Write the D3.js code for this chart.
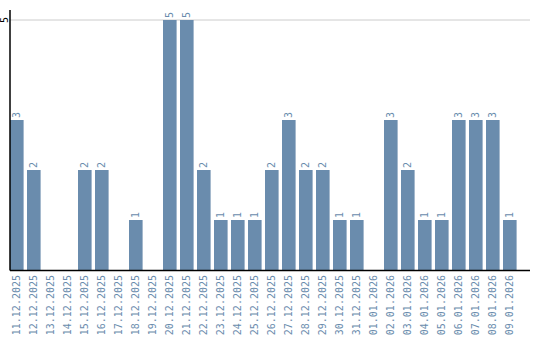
<!DOCTYPE html>
<html>
<head>
<meta charset="utf-8">
<script src="https://cdn.jsdelivr.net/npm/d3@7"></script>
<style>
  body { margin: 0; background: #fff; }
  text { font-family: "DejaVu Sans Mono", monospace; font-size: 10px; }
</style>
</head>
<body>
<svg id="chart" width="540" height="340"></svg>
<script>
const dates = ["11.12.2025", "12.12.2025", "13.12.2025", "14.12.2025", "15.12.2025", "16.12.2025",
  "17.12.2025", "18.12.2025", "19.12.2025", "20.12.2025", "21.12.2025", "22.12.2025", "23.12.2025",
  "24.12.2025", "25.12.2025", "26.12.2025", "27.12.2025", "28.12.2025", "29.12.2025", "30.12.2025",
  "31.12.2025", "01.01.2026", "02.01.2026", "03.01.2026", "04.01.2026", "05.01.2026", "06.01.2026",
  "07.01.2026", "08.01.2026", "09.01.2026"];
const counts = [3, 2, 0, 0, 2, 2, 0, 1, 0, 5, 5, 2, 1, 1, 1, 2, 3, 2, 2, 1, 1, 0, 3, 2, 1, 1, 3, 3, 3, 1];
const yTicks = [5];

const svg = d3.select("#chart");
const mLeft = 10, mRight = 530, mBottom = 270, mTop = 10;
const barColor = "#6a8cad";

let x = d3.scaleBand().domain(dates).range([mLeft, 516.6]).paddingInner(0.2).paddingOuter(0);
let y = d3.scaleLinear().domain([0, 5.2]).range([mBottom, mTop]);

// grid
svg.append("g")
  .selectAll("line")
  .data(yTicks)
  .enter()
  .append("line")
  .attr("x1", mLeft).attr("x2", mRight)
  .attr("y1", (d) => y(d)).attr("y2", (d) => y(d))
  .attr("stroke", "#ccc");

// bars
svg.append("g")
  .selectAll("rect")
  .data(counts)
  .enter()
  .append("rect")
  .attr("x", (d, i) => x(dates[i]))
  .attr("y", (d) => y(d))
  .attr("width", x.bandwidth())
  .attr("height", (d) => mBottom - y(d))
  .attr("fill", barColor);

// value labels
svg.append("g")
  .selectAll("text")
  .data(counts.map((v, i) => ({ v: v, d: dates[i] })).filter((o) => o.v > 0))
  .enter()
  .append("text")
  .attr("transform", (o) => "translate(" + (x(o.d) + x.bandwidth() / 2 + 3.5) + "," + (y(o.v) - 2) + ") rotate(-90)")
  .attr("fill", barColor)
  .text((o) => o.v);

// date labels
svg.append("g")
  .selectAll("text")
  .data(dates)
  .enter()
  .append("text")
  .attr("transform", (d) => "translate(" + (x(d) + x.bandwidth() / 2 + 3.5) + "," + (mBottom + 5) + ") rotate(-90)")
  .attr("text-anchor", "end")
  .attr("fill", barColor)
  .text((d) => d);

// y tick labels
svg.append("g")
  .selectAll("text")
  .data(yTicks)
  .enter()
  .append("text")
  .attr("transform", (d) => "translate(7.5," + y(d) + ") rotate(-90)")
  .attr("text-anchor", "middle")
  .attr("fill", "#000")
  .text((d) => d);

// axes lines
svg.append("line").attr("x1", mLeft).attr("x2", mLeft).attr("y1", mTop).attr("y2", mBottom + 0.5)
  .attr("stroke", "#000").attr("stroke-width", 1.5);
svg.append("line").attr("x1", mLeft).attr("x2", mRight).attr("y1", mBottom + 0.5).attr("y2", mBottom + 0.5)
  .attr("stroke", "#000").attr("stroke-width", 1.5);
</script>
</body>
</html>
